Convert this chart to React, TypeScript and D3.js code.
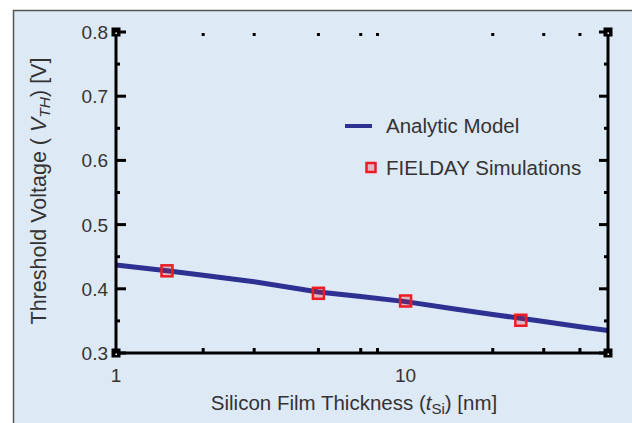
import React, { useEffect, useRef } from 'react';
import * as d3 from 'd3';

// Analytic model curve
const modelT = [1, 1.5, 2, 3, 5, 7, 10, 15, 20, 30, 40, 50];
const modelV = [0.437, 0.428, 0.421, 0.411, 0.395, 0.388, 0.380, 0.368, 0.360, 0.349, 0.341, 0.335];

// FIELDAY simulation points
const simT = [1.5, 5, 10, 25];
const simV = [0.428, 0.393, 0.381, 0.351];

const yTicks = [0.3, 0.4, 0.5, 0.6, 0.7, 0.8];
const yMinorTicks = [0.35, 0.45, 0.55, 0.65, 0.75];
const xTicks = [1, 10];
const xMinorTicks = [2, 3, 5, 7, 8, 20, 30, 40];

const W = 632;
const H = 423;

const App = () => {
  const svgRef = useRef<SVGSVGElement>(null);

  useEffect(() => {
    const svg = d3.select(svgRef.current);
    svg.selectAll('*').remove();

    const font = 'Helvetica, Arial, "Liberation Sans", sans-serif';
    const textColor = '#333';
    const tickSize = 19;
    const labelSize = 20.5;

    // Background panel
    svg.append('rect')
      .attr('x', 13.5).attr('y', 10.5)
      .attr('width', W).attr('height', H)
      .attr('fill', '#dee9f6')
      .attr('stroke', '#555')
      .attr('stroke-width', 1.5);

    const left = 116, right = 608, top = 32, bottom = 353;

    const x = d3.scaleLog().domain([1, 50]).range([left, right]);
    const y = d3.scaleLinear().domain([0.3, 0.8]).range([bottom, top]);

    const g = svg.append('g');

    // Model line
    const line = d3.line<number>()
      .x((d, i) => x(modelT[i]))
      .y(d => y(d));
    g.append('path')
      .datum(modelV)
      .attr('fill', 'none')
      .attr('stroke', '#2e3192')
      .attr('stroke-width', 5)
      .attr('d', line);

    // Simulation markers
    g.selectAll('.sim')
      .data(simV)
      .enter()
      .append('rect')
      .attr('class', 'sim')
      .attr('x', (d, i) => x(simT[i]) - 5.5)
      .attr('y', d => y(d) - 5.5)
      .attr('width', 11)
      .attr('height', 11)
      .attr('fill', 'rgba(237,28,36,0.25)')
      .attr('stroke', '#ed1c24')
      .attr('stroke-width', 2.5);

    // Axes frame: left, bottom, right lines
    const axisG = svg.append('g').attr('stroke', '#000').attr('stroke-width', 3);
    axisG.append('line').attr('x1', left).attr('x2', left).attr('y1', top).attr('y2', bottom);
    axisG.append('line').attr('x1', left).attr('x2', right).attr('y1', bottom).attr('y2', bottom);
    axisG.append('line').attr('x1', right).attr('x2', right).attr('y1', top).attr('y2', bottom);

    // Left / right y ticks
    yTicks.forEach(v => {
      axisG.append('line').attr('x1', left).attr('x2', left + 10).attr('y1', y(v)).attr('y2', y(v));
      axisG.append('line').attr('x1', right).attr('x2', right - 9).attr('y1', y(v)).attr('y2', y(v));
    });
    yMinorTicks.forEach(v => {
      axisG.append('line').attr('x1', left).attr('x2', left + 4).attr('y1', y(v)).attr('y2', y(v));
      axisG.append('line').attr('x1', right).attr('x2', right - 4).attr('y1', y(v)).attr('y2', y(v));
    });

    // Bottom minor ticks and top dots
    xMinorTicks.forEach(v => {
      svg.append('rect').attr('x', x(v) - 1.5).attr('y', bottom - 5).attr('width', 3).attr('height', 5).attr('fill', '#000');
      svg.append('rect').attr('x', x(v) - 1.5).attr('y', top + 1).attr('width', 3).attr('height', 3).attr('fill', '#000');
    });

    // Corner squares
    [[left, top], [right, top], [left, bottom], [right, bottom]].forEach(([cx, cy]) => {
      svg.append('rect').attr('x', cx - 4.5).attr('y', cy - 4.5).attr('width', 9).attr('height', 9).attr('fill', '#000');
      svg.append('rect').attr('x', cx - 0.5).attr('y', cy + 0.5).attr('width', 1.5).attr('height', 1.5).attr('fill', '#fff');
    });

    // Y tick labels
    svg.selectAll('.ylab')
      .data(yTicks)
      .enter()
      .append('text')
      .attr('x', left - 8)
      .attr('y', d => y(d) + 7)
      .attr('text-anchor', 'end')
      .attr('font-family', font)
      .attr('font-size', tickSize)
      .attr('fill', textColor)
      .text(d => d3.format('.1f')(d));

    // X tick labels
    svg.selectAll('.xlab')
      .data(xTicks)
      .enter()
      .append('text')
      .attr('x', d => x(d))
      .attr('y', 382)
      .attr('text-anchor', 'middle')
      .attr('font-family', font)
      .attr('font-size', tickSize)
      .attr('fill', textColor)
      .text(d => String(d));

    // X title
    const xt = svg.append('text')
      .attr('x', 354)
      .attr('y', 410)
      .attr('text-anchor', 'middle')
      .attr('font-family', font)
      .attr('font-size', labelSize)
      .attr('fill', textColor);
    xt.append('tspan').text('Silicon Film Thickness (');
    xt.append('tspan').attr('font-style', 'italic').text('t');
    xt.append('tspan').attr('font-size', 15).attr('dy', 4).text('Si');
    xt.append('tspan').attr('dy', -4).text(') [nm]');

    // Y title
    const yt = svg.append('text')
      .attr('transform', 'translate(46,191) rotate(-90)')
      .attr('text-anchor', 'middle')
      .attr('font-family', font)
      .attr('font-size', 21.5)
      .attr('fill', textColor);
    yt.append('tspan').text('Threshold Voltage ( ');
    yt.append('tspan').attr('font-style', 'italic').text('V');
    yt.append('tspan').attr('font-style', 'italic').attr('font-size', 15.5).attr('dy', 4).text('TH');
    yt.append('tspan').attr('dy', -4).text(') [V]');

    // Legend
    const legend = svg.append('g');
    legend.append('line')
      .attr('x1', 345).attr('x2', 372).attr('y1', 126).attr('y2', 126)
      .attr('stroke', '#2e3192').attr('stroke-width', 4);
    legend.append('text')
      .attr('x', 386).attr('y', 133)
      .attr('font-family', font).attr('font-size', labelSize).attr('fill', textColor)
      .text('Analytic Model');
    legend.append('rect')
      .attr('x', 366.5).attr('y', 163).attr('width', 9).attr('height', 9)
      .attr('fill', 'rgba(237,28,36,0.25)')
      .attr('stroke', '#ed1c24').attr('stroke-width', 2.5);
    legend.append('text')
      .attr('x', 386).attr('y', 175)
      .attr('font-family', font).attr('font-size', labelSize).attr('fill', textColor)
      .text('FIELDAY Simulations');
  }, []);

  return (
    <svg
      ref={svgRef}
      width={W}
      height={H}
      style={{ position: 'absolute', left: 0, top: 0, display: 'block' }}
    />
  );
};

export default App;
